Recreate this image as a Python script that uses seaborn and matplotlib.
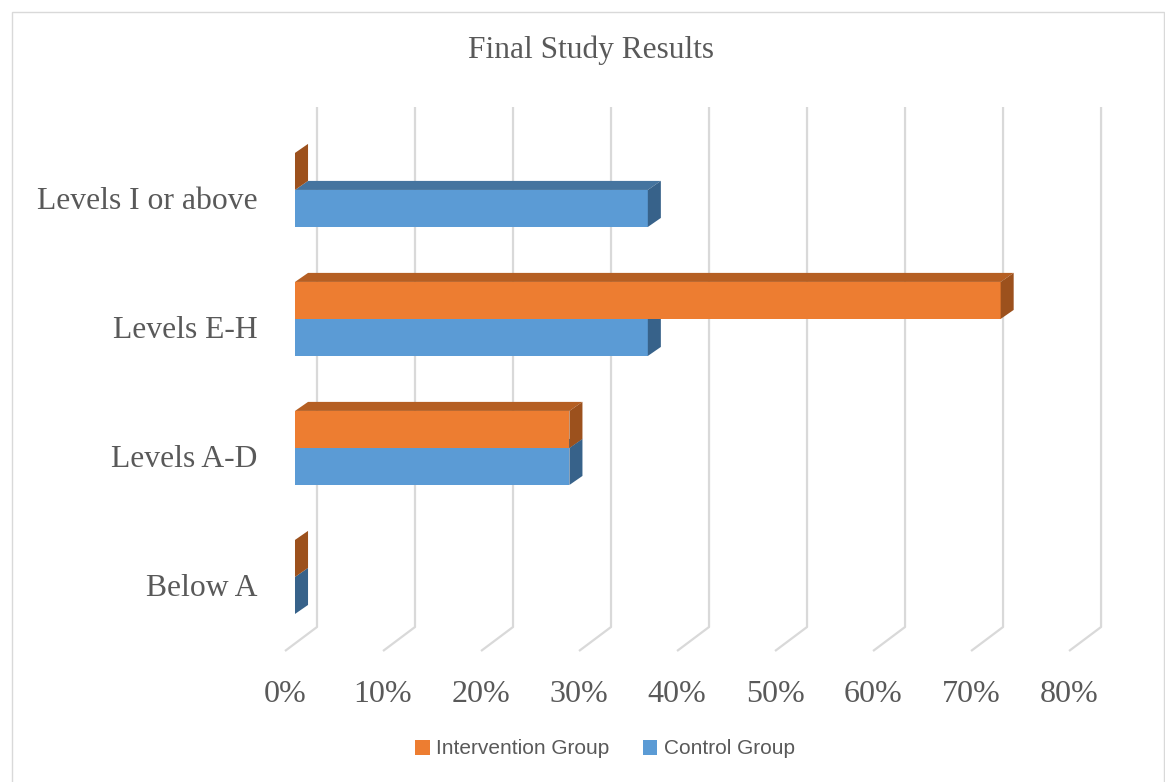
import pandas as pd
import matplotlib.pyplot as plt
import seaborn as sns
from matplotlib.patches import Polygon, Rectangle, Patch

# Data
categories = ['Levels I or above', 'Levels E-H', 'Levels A-D', 'Below A']
intervention = [0, 72, 28, 0]
control = [36, 36, 28, 0]
groups = ['Intervention Group', 'Control Group']
tick_values = [0, 10, 20, 30, 40, 50, 60, 70, 80]
tick_labels = ['0%', '10%', '20%', '30%', '40%', '50%', '60%', '70%', '80%']

df = pd.DataFrame({
    'Level': categories * 2,
    'Share': intervention + control,
    'Group': [groups[0]] * len(categories) + [groups[1]] * len(categories),
})

front_colors = {'Intervention Group': '#ED7D31', 'Control Group': '#5B9BD5'}
top_colors = {'Intervention Group': '#B55F23', 'Control Group': '#45749F'}
side_colors = {'Intervention Group': '#9C511D', 'Control Group': '#37628A'}
text_grey = '#595959'
grid_grey = '#D9D9D9'

sns.set_style('white')
plt.rcParams['font.family'] = ['Liberation Serif', 'DejaVu Serif']

W, H = 1165, 782
fig = plt.figure(figsize=(W / 100, H / 100), dpi=100)
ax = fig.add_axes([285 / W, (H - 651) / H, 816 / W, 544 / H])

sns.barplot(data=df, x='Share', y='Level', hue='Group', hue_order=groups,
            order=categories, palette=front_colors, width=0.574, orient='h',
            saturation=1, legend=False, ax=ax)

# axis geometry (data units)
x_lo, x_hi = -1.02, 82.24
y_top, y_bot = -0.643, 3.574
ax.set_xlim(x_lo, x_hi)
ax.set_ylim(y_bot, y_top)

# 3D floor / back-wall gridlines
back_dx = 2.245
floor_back_y = 3.388
for t in tick_values:
    ax.plot([t + back_dx, t + back_dx, t + x_lo], [y_top, floor_back_y, y_bot],
            color=grid_grey, lw=1.6, zorder=1, clip_on=False, solid_capstyle='butt')

# bar depth faces
dx, dy = 1.33, 0.07
for grp, cont in zip(groups, ax.containers):
    z = 4 if grp == 'Intervention Group' else 3
    for bar in cont:
        x0 = bar.get_x()
        x1 = x0 + bar.get_width()
        yt = bar.get_y()
        yb = yt + bar.get_height()
        bar.set_zorder(z)
        bar.set_edgecolor('none')
        top = Polygon([(x0, yt), (x1, yt), (x1 + dx, yt - dy), (x0 + dx, yt - dy)],
                      closed=True, facecolor=top_colors[grp], edgecolor='none', zorder=z + 0.1)
        side = Polygon([(x1, yt), (x1 + dx, yt - dy), (x1 + dx, yb - dy), (x1, yb)],
                       closed=True, facecolor=side_colors[grp], edgecolor='none', zorder=z + 0.2)
        ax.add_patch(top)
        ax.add_patch(side)

# ticks and labels
ax.set_xticks([t + x_lo for t in tick_values])
ax.set_xticklabels(tick_labels, fontsize=23, color=text_grey)
ax.set_yticks([i + 0.062 for i in range(len(categories))])
ax.set_yticklabels(categories, fontsize=22.8, color=text_grey)
ax.tick_params(axis='x', length=0, pad=21)
ax.tick_params(axis='y', length=0, pad=20)
ax.set_xlabel('')
ax.set_ylabel('')
for s in ax.spines.values():
    s.set_visible(False)
ax.patch.set_alpha(0)

fig.text(591 / W, 1 - 50 / H, 'Final Study Results', ha='center', va='center',
         fontsize=22.6, color=text_grey)

handles = [Patch(facecolor=front_colors[g], edgecolor='none', label=g) for g in groups]
fig.legend(handles=handles, loc='center', bbox_to_anchor=(605 / W, 1 - 749 / H), ncol=2,
           frameon=False, handlelength=0.7, handleheight=0.7, handletextpad=0.3,
           columnspacing=1.6, prop={'family': 'Liberation Sans', 'size': 15},
           labelcolor=text_grey)

# chart area border
fig.add_artist(Rectangle((11.5 / W, -0.01), 1152 / W, 1 - 12 / H + 0.01,
                         transform=fig.transFigure, fill=False, edgecolor=grid_grey, lw=1))

fig.savefig('out.png', dpi=100)
